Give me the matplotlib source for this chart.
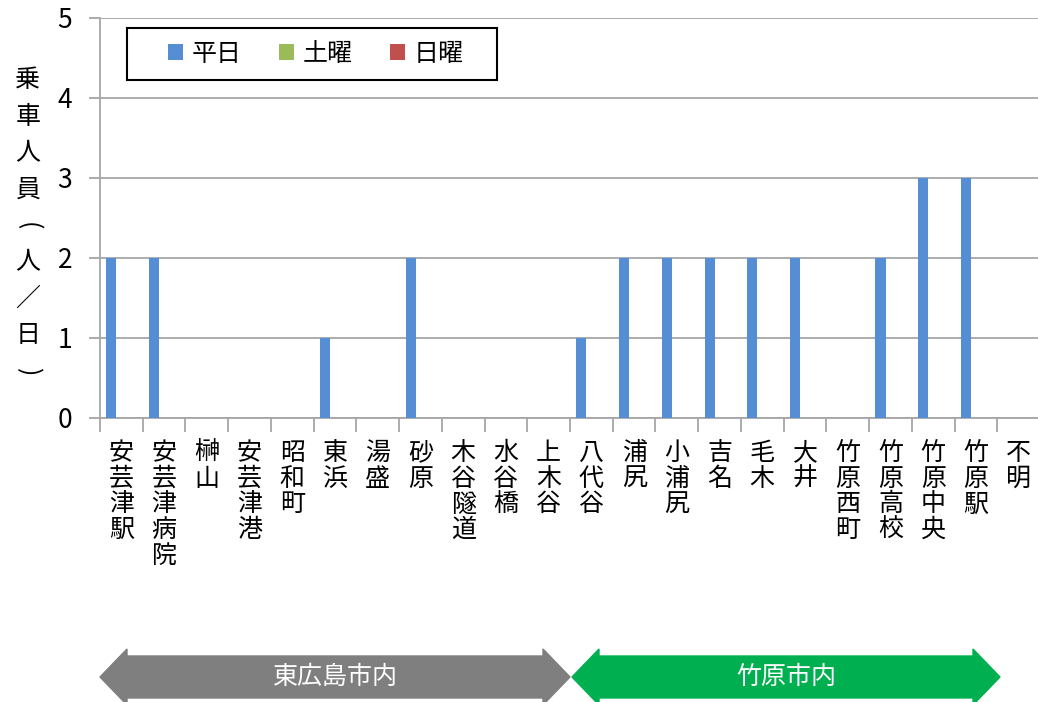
import numpy as np
import matplotlib.pyplot as plt
from matplotlib.patches import Polygon, Rectangle

plt.rcParams['font.family'] = ['Noto Sans CJK JP', 'DejaVu Sans']

stops = ['安芸津駅', '安芸津病院', '榊山', '安芸津港', '昭和町', '東浜', '湯盛', '砂原',
         '木谷隧道', '水谷橋', '上木谷', '八代谷', '浦尻', '小浦尻', '吉名', '毛木', '大井',
         '竹原西町', '竹原高校', '竹原中央', '竹原駅', '不明']
weekday = [2, 2, 0, 0, 0, 1, 0, 2, 0, 0, 0, 1, 2, 2, 2, 2, 2, 0, 2, 3, 3, 0]
saturday = [0] * 22
sunday = [0] * 22
series = ['平日', '土曜', '日曜']
colors = ['#558ED5', '#9BBB59', '#C0504D']
yticks = [0, 1, 2, 3, 4, 5]
ylabel = '乗車人員(人／日)'
regions = ['東広島市内', '竹原市内']

W, H = 1038, 702
fig = plt.figure(figsize=(W / 100, H / 100), dpi=100)
ax = fig.add_axes([100 / W, 1 - 418 / H, 940 / W, 400 / H])

x = np.arange(len(stops))
bw = 0.235
for k, (vals, c, name) in enumerate(zip([weekday, saturday, sunday], colors, series)):
    ax.bar(x - 0.5 + 0.15 + bw * (k + 0.5), vals, bw, color=c, label=name, zorder=3)

ax.set_xlim(-0.5, len(stops) - 0.5)
ax.set_ylim(0, 5)
ax.set_yticks(yticks)
ax.yaxis.grid(True, color='#A6A6A6', lw=1.3, zorder=0)
ax.tick_params(axis='y', length=8, width=1.3, color='#A6A6A6', labelsize=19, pad=12)
ax.set_xticks(x)
ax.set_xticklabels(['\n'.join(s) for s in stops], fontsize=18, va='top')
for t in ax.get_xticklabels():
    t.set_linespacing(0.98)
ax.tick_params(axis='x', which='major', length=0, pad=16)
ax.set_xticks(np.arange(-0.5, len(stops)), minor=True)
ax.tick_params(axis='x', which='minor', length=10, width=1.3, color='#A6A6A6')
for s in ['top', 'right']:
    ax.spines[s].set_visible(False)
for s in ['left', 'bottom']:
    ax.spines[s].set_color('#A6A6A6')
    ax.spines[s].set_linewidth(1.3)

# legend with its own box (wider side margins than matplotlib's frame)
fig.patches.append(Rectangle((127 / W, 1 - 80 / H), 370 / W, 52 / H, fill=False,
                             edgecolor='black', lw=1.5, transform=fig.transFigure,
                             zorder=5))
leg = fig.legend(*ax.get_legend_handles_labels(), loc='center',
                 bbox_to_anchor=(316 / W, 1 - 54 / H), ncol=3, fontsize=18,
                 frameon=False, handlelength=0.6, handleheight=0.6,
                 handletextpad=0.35, columnspacing=1.5, borderpad=0)

# vertical y-axis title, one character per line
for i, ch in enumerate(ylabel):
    rot = -90 if ch in '()' else 0
    fig.text(28 / W, 1 - (80 + 36.5 * i) / H, ch, ha='center', va='center',
             fontsize=18, rotation=rot, rotation_mode='anchor')

# region arrows
def arrow(x0, x1, color, label):
    yc, hb, hh, hw = 677, 21, 28, 27
    pts = [(x0, yc), (x0 + hw, yc - hh), (x0 + hw, yc - hb), (x1 - hw, yc - hb),
           (x1 - hw, yc - hh), (x1, yc), (x1 - hw, yc + hh), (x1 - hw, yc + hb),
           (x0 + hw, yc + hb), (x0 + hw, yc + hh)]
    pts = [(px / W, 1 - py / H) for px, py in pts]
    fig.patches.append(Polygon(pts, closed=True, color=color, transform=fig.transFigure))
    fig.text((x0 + x1) / 2 / W, 1 - yc / H, label, color='white', fontsize=18,
             ha='center', va='center')

arrow(100, 570, '#7F7F7F', regions[0])
arrow(572, 1000, '#00B050', regions[1])

fig.savefig('out.png', dpi=100)
